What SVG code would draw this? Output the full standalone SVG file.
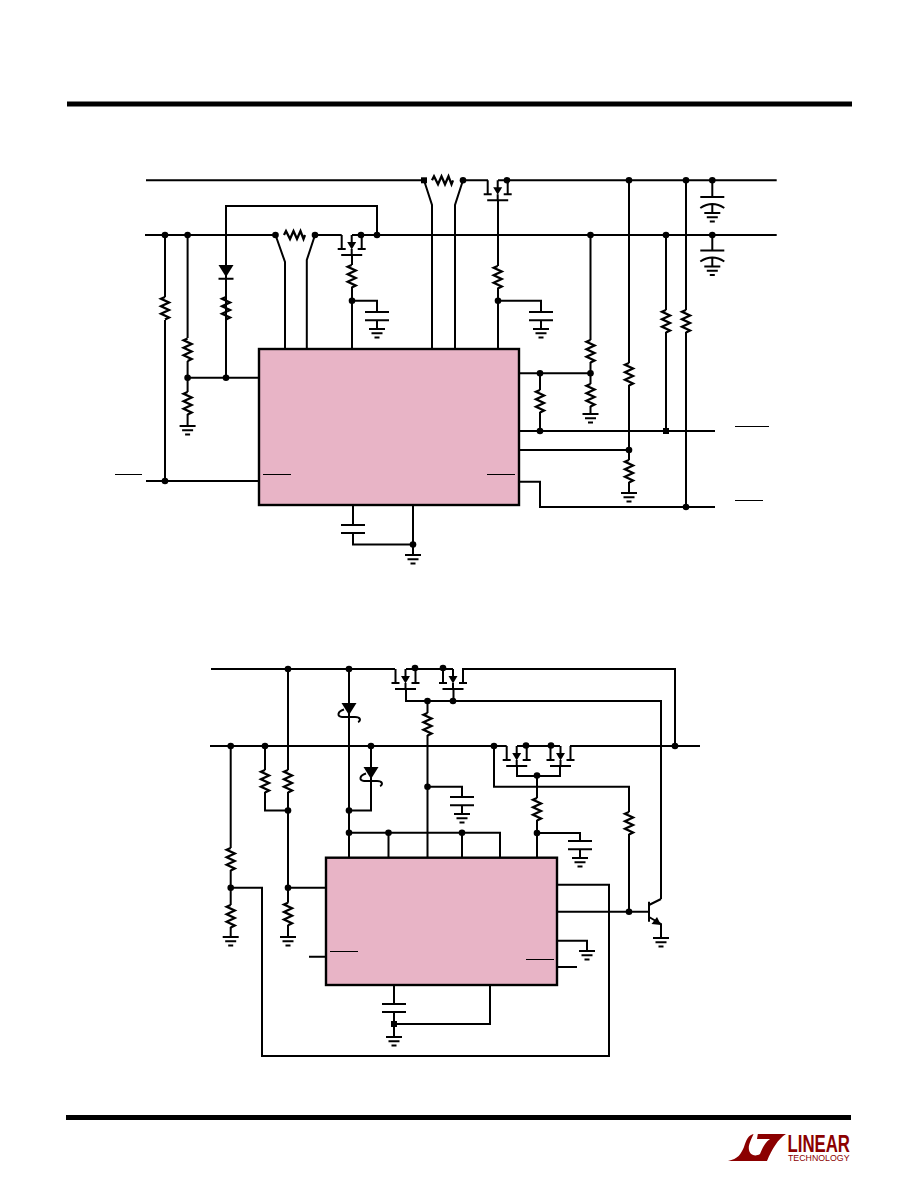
<svg xmlns="http://www.w3.org/2000/svg" width="918" height="1188" viewBox="0 0 918 1188">
<style>
.w{fill:none;stroke:#000;stroke-width:2;stroke-linejoin:miter}
.r{fill:none;stroke:#000;stroke-width:2.3;stroke-linejoin:miter}
.t{fill:none;stroke:#000;stroke-width:1}
.ic{fill:#e8b4c6;stroke:#000;stroke-width:2.4}
.b{fill:#000}
.k{fill:#000;stroke:none}
text{font-family:"Liberation Sans",Arial,sans-serif;fill:#8b0000}
</style>
<defs>
<circle id="d" r="3.3" class="b"/>
<rect id="q" x="-3" y="-3" width="6" height="6" class="b"/>
<path id="rv" class="r" d="M0,0 L-4,1.8 L4,5.5 L-4,9.2 L4,13 L-4,16.8 L4,20.5 L0,22.5"/>
<path id="rh" class="r" d="M0,0 L2,-4 L6,4 L9.5,-4 L13,4 L16.5,-4 L19.5,4 L21,0"/>
<path id="g" class="w" d="M-8,0 H8 M-5.5,4.3 H5.5 M-2.5,8.6 H2.5"/>
<g id="m">
<path class="w" d="M-10,0 V14 M-14,14 H-6 M10,0 V14 M6,14 H14 M-10.5,20 H10.5 M0,0 V8 M0,20 V14"/>
<path class="k" d="M-4.5,7 H4.5 L0,14.5 Z"/>
</g>
<g id="cap"><path class="w" d="M-12,0 H12 M-12,8.3 H12 M0,8.3 V17"/><use href="#g" y="17"/></g>
<g id="ecap"><path class="w" d="M-12,0 H12 M-12,11 Q0,3 12,11 M0,7 V16"/><use href="#g" y="16"/></g>
<path id="z" class="w" d="M-5,-5.5 C-12,-3.5 -12,2 -7,2 H6 C12,2 12,6 9,7"/>
</defs>

<rect id="bar-top" x="67" y="101.5" width="785" height="5" class="b"/>
<rect id="bar-bottom" x="66" y="1115" width="785" height="5" class="b"/>

<g id="connectors">
<path class="w" d="M146,180.3 H424 M463,180.3 H488 M498,180.3 H507 V180 M507,180.3 H776.7"/>
<path class="w" d="M145,235 H275.5 M315,235 H341.7 M352,235 H361 M361,235 H776.7"/>
<path class="w" d="M424,180.3 L432,205 V349 M463,180.3 L455,205 V349"/>
<path class="w" d="M275.5,235 L285,262 V349 M315,235 L306.8,260 V349"/>
<path class="w" d="M226,377.7 V206 H377 V235"/>
<path class="w" d="M165,235 V297 M165,320 V481 M146,481 H259"/>
<path class="w" d="M187.6,235 V338 M187.6,361 V392 M187.6,414 V426 M187.6,377.7 H259"/>
<path class="w" d="M352,255 V265 M352,287 V349 M352,300.7 H377 V312"/>
<path class="w" d="M498,200 V266 M498,288 V349 M498,300.7 H541 V312"/>
<path class="w" d="M519,373.3 H590.5 M590.5,235 V340 M590.5,362 V384 M590.5,406 V414"/>
<path class="w" d="M540,373.3 V390 M540,412 V431 M519,431 H715"/>
<path class="w" d="M666,235 V310 M666,332 V431"/>
<path class="w" d="M629,180.3 V363 M629,385 V460 M629,482 V493 M519,450 H629"/>
<path class="w" d="M686,180.3 V310 M686,332 V507"/>
<path class="w" d="M519,481.7 H540 V507 H715"/>
<path class="w" d="M353,505 V525 M353,533 V544.5 H413 M413,505 V555"/>
<path class="w" d="M712.3,180.3 V197 M712.3,235 V250"/>
<path class="w" d="M211,669 H395 M406,669 H415 M415,669 H443 M443,669 H453 M463,683 V669 H675 V746"/>
<path class="w" d="M210,746 H506.7 M517,746 H526 M526,746 H551 M551,746 H560 M570,746 H700"/>
<path class="w" d="M406,689 V701 H661 V899 M453.5,689 V701"/>
<path class="w" d="M349,669 V857.7 M371,746 V810.6 H349"/>
<path class="w" d="M427.5,701 V713 M427.5,735 V857.7 M427.5,786.7 H462 V797"/>
<path class="w" d="M349,832.7 H500 V857.7 M388.5,832.7 V857.7 M462,832.7 V857.7"/>
<path class="w" d="M494,746 V786.7 H629 V812 M629,834 V912"/>
<path class="w" d="M517,766 V776 H560 V766 M537,776 V798 M537,820 V857.7 M537,833 H580 V841"/>
<path class="w" d="M265,746 V770 M265,792 V810.6 H288 M288,669 V770 M288,792 V902.7 M288,925 V937 M288,887.7 H326"/>
<path class="w" d="M230.7,746 V848 M230.7,870 V905 M230.7,927 V937 M230.7,887.7 H262 V1056 H609 V884.7 H557"/>
<path class="w" d="M309,956.7 H326 M557,911.7 H649 M557,940.7 H587 V951 M557,967 H577"/>
<path class="w" d="M394,985 V1004 M394,1012 V1037 M394,1024 H490 V985"/>
<path class="w" d="M649,917 L661,924 V938 M649,905 L661,899"/>
<path class="w" d="M649,901.7 V921.7"/>
<path class="k" d="M661,925 L651.5,924 L657,917 Z"/>
</g>

<g id="ic-1"><rect x="259" y="349" width="260" height="156" class="ic"/></g>
<g id="ic-2"><rect x="326" y="857.7" width="231" height="127.3" class="ic"/></g>

<g id="overlines">
<path class="t" d="M115,474.5 H142 M263,474.5 H291 M487,474.5 H515 M735,426.5 H769 M735,500.5 H763 M330,951.5 H358 M526,959.5 H554"/>
</g>

<g id="mosfets">
<use href="#m" x="351.7" y="235"/>
<use href="#m" x="497.7" y="180.3"/>
<use href="#m" x="405.5" y="669"/>
<use href="#m" x="453" y="669"/>
<use href="#m" x="516.7" y="746"/>
<use href="#m" x="560.5" y="746"/>
</g>

<g id="resistors">
<use href="#rh" x="432" y="180.3"/>
<use href="#rh" x="284" y="235"/>
<use href="#rv" x="165" y="297"/>
<use href="#rv" x="226" y="297"/>
<use href="#rv" x="187.6" y="338.5"/>
<use href="#rv" x="187.6" y="392"/>
<use href="#rv" x="351.7" y="265"/>
<use href="#rv" x="497.7" y="266"/>
<use href="#rv" x="590.5" y="340"/>
<use href="#rv" x="590.5" y="384"/>
<use href="#rv" x="540" y="390"/>
<use href="#rv" x="629" y="363"/>
<use href="#rv" x="629" y="460"/>
<use href="#rv" x="666" y="310"/>
<use href="#rv" x="686" y="310"/>
<use href="#rv" x="427.5" y="713"/>
<use href="#rv" x="265" y="770"/>
<use href="#rv" x="288" y="770"/>
<use href="#rv" x="537" y="798"/>
<use href="#rv" x="629" y="812"/>
<use href="#rv" x="230.7" y="848"/>
<use href="#rv" x="230.7" y="905"/>
<use href="#rv" x="288" y="902.7"/>
</g>

<g id="diodes">
<path class="k" d="M218.5,265 H233.5 L226,277 Z"/>
<path class="w" d="M218.5,278.7 H233.5 M226,278 V297"/>
<path class="k" d="M341.5,703 H356.5 L349,715 Z"/><use href="#z" x="349" y="715"/>
<path class="k" d="M363.5,767 H378.5 L371,779 Z"/><use href="#z" x="371" y="779"/>
</g>

<g id="capacitors">
<use href="#cap" x="377" y="312"/>
<use href="#cap" x="541" y="312"/>
<use href="#ecap" x="712.3" y="197"/>
<use href="#ecap" x="712.3" y="250.5"/>
<path class="w" d="M341,525 H365 M341,533 H365"/>
<use href="#cap" x="462" y="797"/>
<use href="#cap" x="580" y="841"/>
<path class="w" d="M382,1004 H406 M382,1012 H406"/>
</g>

<g id="grounds">
<use href="#g" x="187.6" y="426"/>
<use href="#g" x="590.5" y="414"/>
<use href="#g" x="629" y="493"/>
<use href="#g" x="413" y="555"/>
<use href="#g" x="230.7" y="937"/>
<use href="#g" x="288" y="937"/>
<use href="#g" x="661" y="938"/>
<use href="#g" x="587" y="951"/>
<use href="#g" x="394" y="1037"/>
</g>

<g id="junctions">
<use href="#q" x="424" y="180.3"/><use href="#d" x="463" y="180.3"/><use href="#d" x="507" y="180.3"/>
<use href="#d" x="629" y="180.3"/><use href="#d" x="686" y="180.3"/><use href="#d" x="712.3" y="180.3"/>
<use href="#d" x="165" y="235"/><use href="#d" x="187.6" y="235"/><use href="#d" x="275.5" y="235"/>
<use href="#d" x="315" y="235"/><use href="#d" x="361" y="235"/><use href="#d" x="377" y="235"/>
<use href="#d" x="590.5" y="235"/><use href="#d" x="666" y="235"/><use href="#d" x="712.3" y="235"/>
<use href="#d" x="352" y="300.7"/><use href="#d" x="498" y="300.7"/>
<use href="#d" x="187.6" y="377.7"/><use href="#d" x="226" y="377.7"/>
<use href="#d" x="540" y="373.3"/><use href="#d" x="590.5" y="373.3"/>
<use href="#d" x="540" y="431"/><use href="#q" x="666" y="431"/>
<use href="#d" x="629" y="450"/><use href="#d" x="686" y="507"/>
<use href="#d" x="165" y="481"/><use href="#d" x="413" y="544.5"/>
<use href="#d" x="288" y="669"/><use href="#d" x="349" y="669"/><use href="#d" x="415" y="668"/><use href="#d" x="443" y="668"/>
<use href="#d" x="427.5" y="701"/><use href="#d" x="453" y="701"/>
<use href="#d" x="230.7" y="746"/><use href="#d" x="265" y="746"/><use href="#d" x="371" y="746"/>
<use href="#d" x="494" y="746"/><use href="#d" x="526" y="745.5"/><use href="#d" x="551" y="745.5"/><use href="#d" x="675" y="746"/>
<use href="#d" x="537" y="775.5"/><use href="#d" x="427.5" y="786.7"/>
<use href="#d" x="288" y="810.6"/><use href="#d" x="349" y="810.6"/>
<use href="#d" x="349" y="832.7"/><use href="#d" x="388.5" y="832.7"/><use href="#d" x="462" y="832.7"/><use href="#d" x="537" y="833"/>
<use href="#d" x="230.7" y="887.7"/><use href="#d" x="288" y="887.7"/>
<use href="#d" x="629" y="911.7"/><use href="#q" x="394" y="1024"/>
</g>

<g id="logo">
<path fill="#8b0000" d="M728,1161 C738,1159 741,1154 744,1147 C746,1141 748,1134 755,1134 H786 C778,1139 772,1149 767,1161 Z"/>
<path fill="#fff" d="M754,1133 H758 L757,1139 H770 C764,1143 762,1150 760,1154 C755,1157 750,1155 749,1150 C748,1145 751,1140 754,1133 Z"/>
<text x="787.5" y="1151.5" font-size="24" font-weight="bold" textLength="62.5" lengthAdjust="spacingAndGlyphs">LINEAR</text>
<text x="788" y="1161" font-size="9.5" textLength="61.5" lengthAdjust="spacingAndGlyphs">TECHNOLOGY</text>
</g>
</svg>
